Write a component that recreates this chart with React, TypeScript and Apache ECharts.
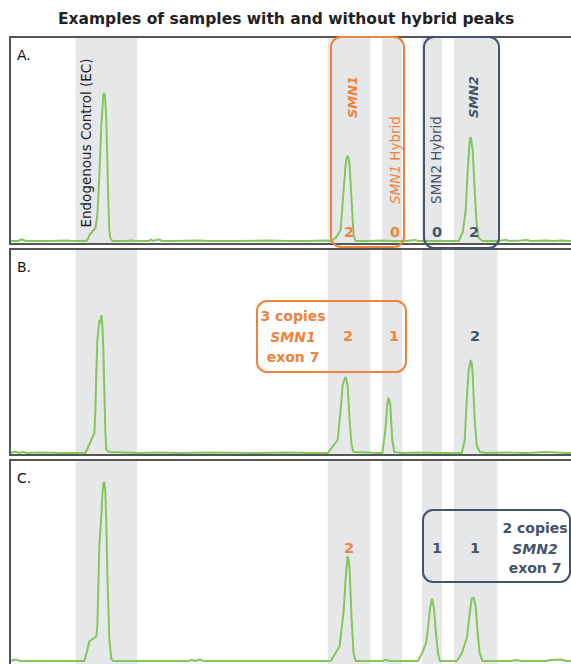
import React, { useEffect, useRef } from "react";
import * as echarts from "echarts";

// ---- data (position units along the trace, signal units above baseline) ----
const regionNames = ["Endogenous Control (EC)", "SMN1", "SMN1 Hybrid", "SMN2 Hybrid", "SMN2"];
const regionRanges: [number, number][] = [
  [66, 128],
  [320, 363],
  [375, 395],
  [415, 435],
  [447, 491],
];

const traceA: [number, number][] = [
  [0, 3], [8, 3], [12, 4.5], [16, 3], [40, 3], [58, 3.5], [62, 3], [70, 3],
  [76, 3], [78, 4], [80, 9], [86, 16], [88, 29], [89, 49], [90, 69], [91, 94], [92, 119],
  [93, 134], [94, 149], [95, 151], [96, 144], [97, 124], [98, 84], [99, 44], [100, 14],
  [101, 6], [103, 3],
  [115, 3], [123, 3.5], [126, 3], [140, 3], [142, 4.5], [144, 3], [150, 4.5], [153, 3],
  [165, 3], [190, 3.5], [200, 3], [230, 3], [260, 3.5], [280, 3], [300, 3], [318, 3.5],
  [323, 3], [328, 6], [333, 14], [336, 54], [338, 79], [339, 86], [340, 88], [341, 86],
  [342, 79], [344, 44], [346, 9], [348, 3],
  [360, 3], [375, 3.5], [385, 3], [400, 3], [408, 4], [411, 3], [420, 3],
  [452, 3], [456, 12], [459, 34], [461, 74], [463, 104], [464, 107], [466, 94], [468, 54],
  [470, 19], [472, 6], [476, 3],
  [490, 3], [500, 4], [503, 3], [515, 3.5], [520, 4], [525, 3], [540, 3.5], [548, 3],
  [555, 3.5], [565, 3],
];

const traceB: [number, number][] = [
  [0, 2], [5, 3.5], [9, 2], [13, 3], [17, 2], [30, 2.5], [50, 2], [70, 2],
  [76, 2], [85, 22], [86, 45], [87, 85], [88, 115], [90, 135], [91, 132], [92, 140],
  [93, 130], [94, 105], [95, 65], [96, 25], [97, 5], [100, 3],
  [115, 2.5], [130, 2], [150, 2.5], [170, 2], [200, 2.5], [250, 2], [280, 2.5], [300, 2],
  [320, 2], [330, 15], [333, 45], [335, 70], [337, 76], [338, 78], [340, 70], [342, 35],
  [344, 10], [346, 3],
  [360, 2.5], [370, 2],
  [375, 2], [378, 25], [380, 50], [381, 57], [382, 55], [383, 50], [385, 15], [387, 3],
  [395, 2], [410, 2.5], [430, 2], [450, 2],
  [455, 2], [458, 15], [460, 55], [462, 85], [464, 95], [465, 92], [466, 80], [468, 35],
  [470, 10], [473, 3],
  [480, 2], [500, 2.5], [520, 2], [540, 3], [560, 2], [565, 2],
];

const traceC: [number, number][] = [
  [0, 3], [6, 4.5], [10, 3], [30, 3], [60, 3], [72, 3],
  [75, 3], [80, 23], [87, 28], [88, 40], [89, 80], [90, 120], [92, 150], [93, 170],
  [94, 182], [95, 184], [96, 175], [97, 143], [98, 93], [99, 60], [100, 26], [102, 5],
  [104, 3],
  [120, 3], [180, 3], [183, 4.5], [186, 3], [192, 4.5], [195, 3], [220, 3], [260, 3], [300, 3],
  [323, 3], [332, 18], [334, 36], [336, 53], [338, 86], [340, 109], [341, 105], [342, 96],
  [344, 46], [346, 11], [348, 3],
  [365, 3], [375, 3], [378, 4.5], [382, 3], [400, 3],
  [411, 3], [415, 11], [419, 21], [421, 36], [423, 56], [425, 66], [427, 56], [429, 31],
  [431, 11], [433, 3],
  [440, 3], [450, 3], [455, 11], [460, 26], [463, 51], [465, 66], [467, 67], [469, 58],
  [471, 31], [473, 11], [476, 3],
  [490, 3], [505, 3], [510, 4], [515, 3], [540, 3], [545, 4], [555, 4.5], [560, 3], [565, 3],
];

const panelLabels = ["A.", "B.", "C."];
const copiesA = ["2", "0", "0", "2"];
const copiesB = ["2", "1", "2"];
const copiesC = ["2", "1", "1"];

const ORANGE = "#f0823a";
const SLATE = "#44546a";
const GREEN = "#84c55c";
const BAND = "#e6e7e8";
const FONT = "DejaVu Sans";

export default function App() {
  const ref = useRef<HTMLDivElement>(null);
  useEffect(() => {
    if (!ref.current) return;
    const chart = echarts.init(ref.current, null, { renderer: "svg" });

    const panels = [
      { top: 37, height: 207, max: 207, data: traceA },
      { top: 249, height: 206, max: 206, data: traceB },
      { top: 460, height: 206, max: 206, data: traceC },
    ];

    const grids = panels.map((p) => ({
      left: 10,
      top: p.top,
      width: 565,
      height: p.height,
      show: false,
    }));
    const xAxes = panels.map((_, i) => ({
      type: "value",
      gridIndex: i,
      min: 0,
      max: 565,
      show: false,
    }));
    const yAxes = panels.map((p, i) => ({
      type: "value",
      gridIndex: i,
      min: 0,
      max: p.max,
      show: false,
    }));
    const series = panels.map((p, i) => ({
      type: "line",
      xAxisIndex: i,
      yAxisIndex: i,
      data: p.data,
      showSymbol: false,
      lineStyle: { color: GREEN, width: 2 },
      itemStyle: { color: GREEN },
      markArea: {
        silent: true,
        itemStyle: { color: BAND },
        data: regionRanges.map((r, k) => [
          { name: regionNames[k], xAxis: r[0] },
          { xAxis: r[1] },
        ]),
        label: { show: false },
      },
    }));

    const txt = (
      text: string,
      x: number,
      y: number,
      color: string,
      size: number,
      weight: string | number = "bold",
      extra: any = {}
    ) => ({
      type: "text",
      x,
      y,
      z: 120,
      rotation: extra.rotation || 0,
      style: {
        text,
        fill: color,
        font: `${extra.italic ? "italic " : ""}${weight} ${size}px "${FONT}"`,
        align: "center",
        verticalAlign: "middle",
        rich: extra.rich,
      },
    });

    const graphic: any[] = [];
    panels.forEach((p) => {
      graphic.push({
        type: "rect",
        z: 100,
        shape: { x: 10, y: p.top, width: 570, height: p.height },
        style: { fill: "none", stroke: "#555", lineWidth: 2 },
      });
    });
    graphic.push(txt("Examples of samples with and without hybrid peaks", 286, 19, "#222", 15.5, "bold"));
    panelLabels.forEach((l, i) =>
      graphic.push({
        type: "text",
        x: 17,
        y: panels[i].top + 18,
        z: 120,
        style: { text: l, fill: "#111", font: `normal 14px "${FONT}"`, align: "left", verticalAlign: "middle" },
      })
    );
    const rot = Math.PI / 2;
    graphic.push(txt(regionNames[0], 86, 143, "#222", 13.5, "normal", { rotation: rot }));
    graphic.push(txt(regionNames[1], 352, 97, ORANGE, 13, "bold", { rotation: rot, italic: true }));
    graphic.push(
      txt("{i|SMN1} Hybrid", 395, 160, ORANGE, 13.5, "normal", {
        rotation: rot,
        rich: { i: { fontStyle: "italic", fontSize: 13.5, fontFamily: FONT, fill: ORANGE } },
      })
    );
    graphic.push(txt(regionNames[3], 436, 160, SLATE, 13.5, "normal", { rotation: rot }));
    graphic.push(txt(regionNames[4], 473, 97, SLATE, 13, "bold", { rotation: rot, italic: true }));

    const colA = [ORANGE, ORANGE, SLATE, SLATE];
    const xA = [349, 395, 437, 474];
    copiesA.forEach((c, i) => graphic.push(txt(c, xA[i], 232, colA[i], 14.5)));
    const colB = [ORANGE, ORANGE, SLATE];
    const xB = [348, 394, 475];
    copiesB.forEach((c, i) => graphic.push(txt(c, xB[i], 336, colB[i], 14.5)));
    const colC = [ORANGE, SLATE, SLATE];
    const xC = [349, 437, 475];
    copiesC.forEach((c, i) => graphic.push(txt(c, xC[i], 548, colC[i], 14.5)));

    const box = (x: number, y: number, w: number, h: number, color: string) => ({
      type: "rect",
      z: 110,
      shape: { x, y, width: w, height: h, r: 10 },
      style: { fill: "none", stroke: color, lineWidth: 2 },
    });
    graphic.push(box(331, 37, 73, 210, ORANGE));
    graphic.push(box(424, 37, 75, 211, SLATE));
    graphic.push(box(257, 301, 149, 71, ORANGE));
    graphic.push(box(423, 510, 147, 72, SLATE));

    graphic.push(txt("3 copies", 293, 316, ORANGE, 14));
    graphic.push(txt("SMN1", 293, 337, ORANGE, 14, "bold", { italic: true }));
    graphic.push(txt("exon 7", 293, 357, ORANGE, 14));
    graphic.push(txt("2 copies", 535, 528, SLATE, 14));
    graphic.push(txt("SMN2", 535, 549, SLATE, 14, "bold", { italic: true }));
    graphic.push(txt("exon 7", 535, 568, SLATE, 14));

    chart.setOption({
      animation: false,
      backgroundColor: "#fff",
      grid: grids,
      xAxis: xAxes,
      yAxis: yAxes,
      series,
      graphic,
    } as any);
    return () => chart.dispose();
  }, []);
  return (
    <div
      ref={ref}
      style={{ position: "absolute", left: 0, top: 0, width: 571, height: 664 }}
    />
  );
}
